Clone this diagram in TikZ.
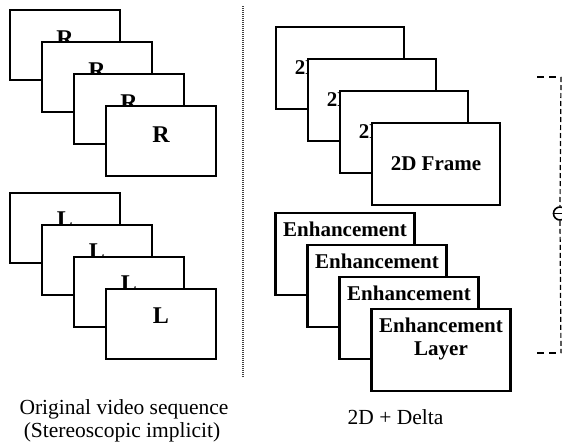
\documentclass[tikz,border=0pt]{standalone}
\usepackage{fontspec}
\setmainfont{Liberation Serif}
\usetikzlibrary{calc}
\begin{document}
\begin{tikzpicture}[x=1pt,y=-1pt,
  viewframe/.style={draw=black, line width=2.2pt, fill=white, rectangle,
    inner sep=0pt, outer sep=0pt},
  eyelabel/.style={inner sep=0pt, font=\bfseries\fontsize{24}{26}\selectfont},
  framelabel/.style={inner sep=0pt, font=\bfseries\fontsize{21}{23}\selectfont},
  caption/.style={inner sep=0pt, anchor=base, font=\fontsize{21.5}{23}\selectfont},
  bracketh/.style={line width=2pt, dash pattern=on 7pt off 5pt},
  bracketv/.style={line width=1.2pt, dash pattern=on 5pt off 3pt},
]
\useasboundingbox (0,0) rectangle (562,442);

% right-eye sequence
\foreach \i in {0,1,2,3}{
  \node[viewframe, minimum width=110pt, minimum height=70pt]
    (R\i) at (65+32*\i, 45+32*\i) {};
  \node[eyelabel] (Rl\i) at ($(R\i.center)+(0,-6.5)$) {R};
}
% left-eye sequence
\foreach \i in {0,1,2,3}{
  \node[viewframe, minimum width=110pt, minimum height=70pt]
    (L\i) at (65+32*\i, 228+32*\i) {};
  \node[eyelabel] (Ll\i) at ($(L\i.center)+(0,-8)$) {L};
}

% separator between the two formats
\draw[line width=1.2pt, black!75, dash pattern=on 1pt off 1pt] (243,6) -- (243,378);

% 2D frames
\foreach \i in {0,1,2,3}{
  \node[viewframe, minimum width=128pt, minimum height=82pt]
    (F\i) at (340+32*\i, 68+32*\i) {};
  \node[framelabel] (Fl\i) at (F\i.center) {2D Frame};
}
% enhancement layers; only the front one shows its second line
\foreach \i in {0,1,2,3}{
  \node[viewframe, minimum width=139pt, minimum height=82pt]
    (E\i) at (345+32*\i, 254+32*\i) {};
  \node[framelabel, anchor=base] (Ea\i) at ($(E\i.north)+(0,23.5)$) {Enhancement};
}
\node[framelabel, anchor=base] (Eb3) at ($(E3.north)+(0,46)$) {Layer};

% combining bracket
\node[circle, draw, line width=1.6pt, minimum size=13pt, inner sep=0pt] (sum) at (560,213.5) {};
\draw[line width=1.6pt] (sum.west) -- (sum.east);
\coordinate (tl) at (537,77);
\coordinate (tr) at (561,77);
\coordinate (bl) at (537,353);
\coordinate (br) at (561,353);
\draw[bracketh] (tl) -- (tr);
\draw[bracketv] (tr) -- (sum.north);
\draw[bracketv] (sum.south) -- (br);
\draw[bracketh] (bl) -- (br);

% captions
\node[caption] (c1) at (124,414) {Original video sequence};
\node[caption] (c2) at (122,437) {(Stereoscopic implicit)};
\node[caption] (c3) at (395.5,424) {2D + Delta};
\end{tikzpicture}
\end{document}
